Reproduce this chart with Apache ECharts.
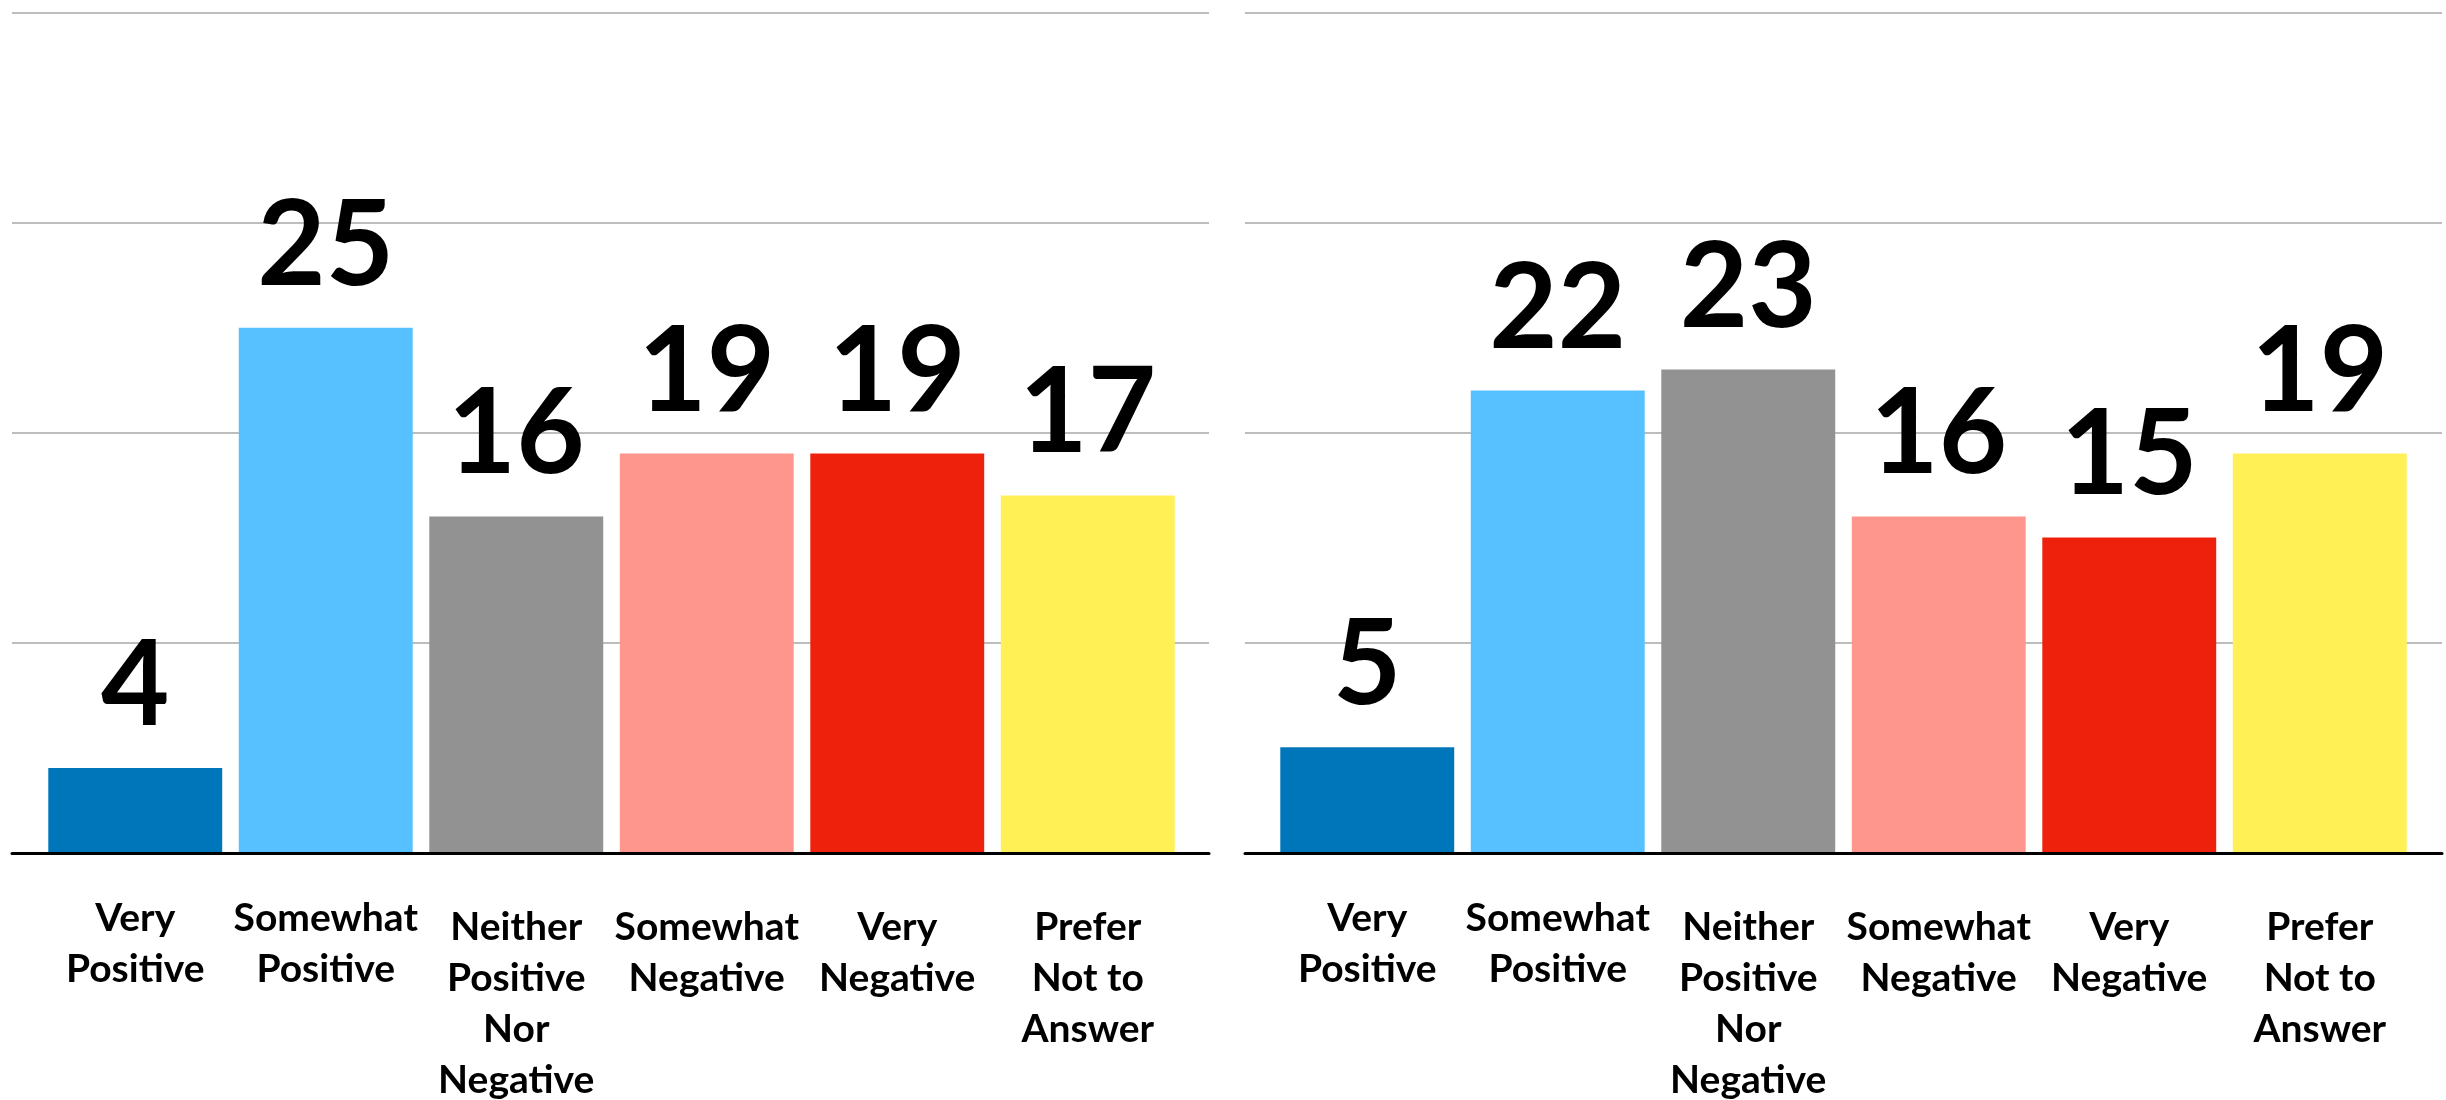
<!DOCTYPE html>
<html>
<head>
    <meta charset="utf-8">
    <title>Two Survey Bar Charts</title>
    <script src="https://cdn.jsdelivr.net/npm/echarts@6/dist/echarts.min.js"></script>
    <style>
        html, body { margin: 0; padding: 0; background: #fff; }
    </style>
</head>
<body>
    <div id="chart" style="width: 2446px; height: 1100px;"></div>

    <script>
    // categories (line breaks as in the picture)
    const categories = [
        'Very\nPositive',
        'Somewhat\nPositive',
        'Neither\nPositive\nNor\nNegative',
        'Somewhat\nNegative',
        'Very\nNegative',
        'Prefer\nNot to\nAnswer'
    ];
    const leftValues = [4, 25, 16, 19, 19, 17];
    const rightValues = [5, 22, 23, 16, 15, 19];
    const barColors = ['#0076BA', '#56C1FE', '#929292', '#FF968D', '#EE220C', '#FFF056'];
    const yMax = 40;
    const yStep = 10;

    const chart = echarts.init(document.getElementById('chart'));

    const FONT = 'Lato, "DejaVu Sans", sans-serif';

    // first two labels sit a little higher than the others
    function catLabel(value, index) {
        const lines = value.split('\n').map(l => '{t|' + l + '}').join('\n');
        return index < 2 ? lines : '{gap| }\n' + lines;
    }

    // background grids (gridlines + baseline) span wider than the bar grids
    const bgGrids = [
        { left: 12, width: 1197, top: 13, height: 840 },
        { left: 1245, width: 1197, top: 13, height: 840 }
    ];
    const barGrids = [
        { left: 40, width: 1143, top: 13, height: 840 },
        { left: 1272, width: 1143, top: 13, height: 840 }
    ];

    const grids = bgGrids.concat(barGrids);

    const xAxes = [];
    const yAxes = [];
    for (let i = 0; i < 2; i++) {
        xAxes.push({
            gridIndex: i,
            type: 'value',
            min: 0, max: 1,
            z: 5,
            axisLine: { show: true, lineStyle: { color: '#000', width: 3 } },
            axisTick: { show: false },
            axisLabel: { show: false },
            splitLine: { show: false }
        });
        yAxes.push({
            gridIndex: i,
            type: 'value',
            min: 0, max: yMax, interval: yStep,
            axisLine: { show: false },
            axisTick: { show: false },
            axisLabel: { show: false },
            splitLine: { show: true, lineStyle: { color: '#bdbdbd', width: 2 } }
        });
    }
    for (let i = 2; i < 4; i++) {
        xAxes.push({
            gridIndex: i,
            type: 'category',
            data: categories,
            axisLine: { show: false },
            axisTick: { show: false },
            splitLine: { show: false },
            axisLabel: {
                interval: 0,
                margin: 41,
                formatter: catLabel,
                rich: {
                    t: {
                        fontFamily: FONT,
                        fontSize: 39,
                        fontWeight: 'bold',
                        lineHeight: 51,
                        color: '#000',
                        align: 'center'
                    },
                    gap: { fontSize: 1, lineHeight: 9 }
                }
            }
        });
        yAxes.push({
            gridIndex: i,
            type: 'value',
            min: 0, max: yMax,
            show: false,
            splitLine: { show: false }
        });
    }

    function barSeries(values, idx) {
        return {
            type: 'bar',
            xAxisIndex: idx,
            yAxisIndex: idx,
            data: values,
            barCategoryGap: '8.7%',
            itemStyle: { color: p => barColors[p.dataIndex] },
            label: {
                show: true,
                position: 'top',
                distance: 22,
                fontFamily: FONT,
                fontSize: 118,
                fontWeight: 'bold',
                color: '#000'
            }
        };
    }

    chart.setOption({
        animation: false,
        grid: grids,
        xAxis: xAxes,
        yAxis: yAxes,
        series: [
            barSeries(leftValues, 2),
            barSeries(rightValues, 3)
        ]
    });
    </script>
</body>
</html>
